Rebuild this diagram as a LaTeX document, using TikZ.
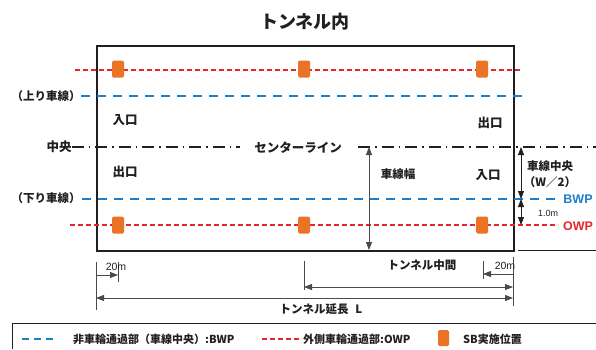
\documentclass[tikz,border=0pt]{standalone}
\usepackage{fontspec}
\setmainfont{Liberation Sans}
\newfontfamily\jp{Noto Sans CJK JP}
\usetikzlibrary{arrows.meta}
\definecolor{owpred}{HTML}{E8262C}
\definecolor{bwpblue}{HTML}{1C7DC9}
\definecolor{sborange}{HTML}{EA7325}
\definecolor{ink}{HTML}{231F20}
\definecolor{dimgray}{HTML}{4A4A4A}
\tikzset{
  jpb/.style={font=\jp\bfseries, text=ink, inner sep=0pt},
  reddash/.style={draw=owpred, line width=1.2pt, dash pattern=on 5pt off 3pt},
  bluedash/.style={draw=bwpblue, line width=1.4pt, dash pattern=on 9pt off 7pt},
  centerline/.style={draw=ink, line width=1.1pt, dash pattern=on 12pt off 5pt on 1.5pt off 5pt},
  sbbox/.style={fill=sborange, draw=none, rounded corners=1.5pt, minimum width=12pt, minimum height=17pt, inner sep=0pt},
  dimline/.style={draw=dimgray, line width=0.8pt},
  dimarr/.style={dimline, {Triangle[length=8pt,width=6pt]}-{Triangle[length=8pt,width=6pt]}},
  dimone/.style={dimline, -{Triangle[length=8pt,width=6pt]}},
  tick/.style={draw=dimgray, line width=0.7pt},
}
\begin{document}
\begin{tikzpicture}[x=1pt,y=-1pt]
\useasboundingbox (0,0) rectangle (596,349);
% title
\node[jpb, font=\jp\bfseries\fontsize{18}{18}\selectfont] (title) at (305,22) {トンネル内};
% tunnel
\node[draw=ink, line width=2.3pt, minimum width=417pt, minimum height=205pt, inner sep=0pt, anchor=north west] (tunnel) at (96,45) {};
% lines
\coordinate (rtA) at (75,70); \coordinate (rtB) at (522,70);
\coordinate (btA) at (81,96); \coordinate (btB) at (522,96);
\coordinate (bbA) at (82,199); \coordinate (bbB) at (558,199);
\coordinate (rbA) at (70,225); \coordinate (rbB) at (558,225);
\draw[reddash] (rtA) -- (rtB);
\draw[bluedash] (btA) -- (btB);
\draw[bluedash] (bbA) -- (bbB);
\draw[reddash] (rbA) -- (rbB);
% SB boxes
\node[sbbox] (sb1) at (118,69) {};
\node[sbbox] (sb2) at (304,69) {};
\node[sbbox] (sb3) at (482,69) {};
\node[sbbox] (sb4) at (118,225) {};
\node[sbbox] (sb5) at (304,225) {};
\node[sbbox] (sb6) at (482,225) {};
% center line
\node[jpb, font=\jp\bfseries\fontsize{12.5}{12.5}\selectfont] (chuo) at (59,147) {中央};
\node[jpb, font=\jp\bfseries\fontsize{12.5}{12.5}\selectfont] (cl) at (298,148) {センターライン};
\coordinate (clA) at (240,147);
\coordinate (clB) at (358,147);
\coordinate (clC) at (596,147);
\draw[centerline] (chuo.east) -- (clA);
\draw[centerline] (clB) -- (clC);
% lane labels
\node[jpb, font=\jp\bfseries\fontsize{11.5}{11.5}\selectfont] (up) at (46,96) {（上り車線）};
\node[jpb, font=\jp\bfseries\fontsize{11.5}{11.5}\selectfont] (down) at (46,198) {（下り車線）};
\node[jpb, font=\jp\bfseries\fontsize{12.5}{12.5}\selectfont] (in1) at (125,120) {入口};
\node[jpb, font=\jp\bfseries\fontsize{12.5}{12.5}\selectfont] (out1) at (490,123) {出口};
\node[jpb, font=\jp\bfseries\fontsize{12.5}{12.5}\selectfont] (out2) at (125,172) {出口};
\node[jpb, font=\jp\bfseries\fontsize{12.5}{12.5}\selectfont] (in2) at (488,175) {入口};
% lane width
\coordinate (lwT) at (369,147);
\coordinate (lwB) at (369,250);
\draw[dimarr] (lwT) -- (lwB);
\node[jpb, font=\jp\bfseries\fontsize{11.5}{11.5}\selectfont] (lw) at (398,174) {車線幅};
% right dims
\coordinate (rdT) at (521,147);
\coordinate (rdM) at (521,199);
\coordinate (rdB) at (521,225);
\draw[dimarr, draw=ink] (rdT) -- (rdM);
\draw[dimarr, draw=ink] (rdM) -- (rdB);
\node[jpb, font=\jp\bfseries\fontsize{11.5}{11.5}\selectfont] (lc) at (550,166) {車線中央};
\node[jpb, font=\jp\bfseries\fontsize{11.5}{11.5}\selectfont] (w2) at (550,182) {（W／2）};
\node[inner sep=0pt, font=\fontsize{9}{9}\selectfont, text=ink] (one) at (548,213) {1.0m};
\node[inner sep=0pt, font=\bfseries\fontsize{12.5}{12.5}\selectfont, text=bwpblue] (bwp) at (578,199) {BWP};
\node[inner sep=0pt, font=\bfseries\fontsize{12.5}{12.5}\selectfont, text=owpred] (owp) at (578,226) {OWP};
\coordinate (hlA) at (518,250);
\coordinate (hlB) at (596,250);
\draw[tick, draw=ink] (hlA) -- (hlB);
% bottom dims
\coordinate (tL1) at (96,262); \coordinate (tL2) at (96,310);
\coordinate (tS1) at (118,262); \coordinate (tS2) at (118,282);
\coordinate (tM1) at (304,261); \coordinate (tM2) at (304,290);
\coordinate (tR1) at (483,261); \coordinate (tR2) at (483,279);
\coordinate (tE1) at (513,257); \coordinate (tE2) at (513,306);
\draw[tick] (tL1) -- (tL2);
\draw[tick] (tS1) -- (tS2);
\draw[tick] (tM1) -- (tM2);
\draw[tick] (tR1) -- (tR2);
\draw[tick] (tE1) -- (tE2);
\coordinate (aL1) at (96,275); \coordinate (aL2) at (118,275);
\draw[dimone] (aL1) -- (aL2);
\coordinate (aR1) at (513,274); \coordinate (aR2) at (483,274);
\draw[dimone] (aR1) -- (aR2);
\coordinate (aM1) at (304,287); \coordinate (aM2) at (513,287);
\draw[dimarr] (aM1) -- (aM2);
\coordinate (aT1) at (96,298); \coordinate (aT2) at (513,298);
\draw[dimarr] (aT1) -- (aT2);
\node[inner sep=0pt, font=\fontsize{10.5}{10.5}\selectfont, text=ink] (m20a) at (116,267) {20m};
\node[inner sep=0pt, font=\fontsize{10.5}{10.5}\selectfont, text=ink] (m20b) at (505,266) {20m};
\node[jpb, font=\jp\bfseries\fontsize{11.5}{11.5}\selectfont] (mid) at (422,265) {トンネル中間};
\node[jpb, font=\jp\bfseries\fontsize{11.5}{11.5}\selectfont] (len) at (321,309) {トンネル延長\hspace{0.6em}L};
% legend
\coordinate (lgA) at (12,349); \coordinate (lgB) at (12,323); \coordinate (lgC) at (596,323);
\draw[draw=ink, line width=0.9pt] (lgA) -- (lgB) -- (lgC);
\coordinate (lb1) at (22,339); \coordinate (lb2) at (56,339);
\draw[draw=bwpblue, line width=1.4pt, dash pattern=on 7pt off 5pt] (lb1) -- (lb2);
\node[jpb, anchor=west, font=\jp\bfseries\fontsize{11}{11}\selectfont] (lgb) at (73,339) {非車輪通過部（車線中央）:BWP};
\coordinate (lr1) at (262,339); \coordinate (lr2) at (300,339);
\draw[reddash] (lr1) -- (lr2);
\node[jpb, anchor=west, font=\jp\bfseries\fontsize{11}{11}\selectfont] (lgr) at (303,339) {外側車輪通過部:OWP};
\node[sbbox, minimum width=11pt, minimum height=16pt] (lgsb) at (443.5,338) {};
\node[jpb, anchor=west, font=\jp\bfseries\fontsize{11}{11}\selectfont] (lgs) at (463,339) {SB実施位置};
\end{tikzpicture}
\end{document}
